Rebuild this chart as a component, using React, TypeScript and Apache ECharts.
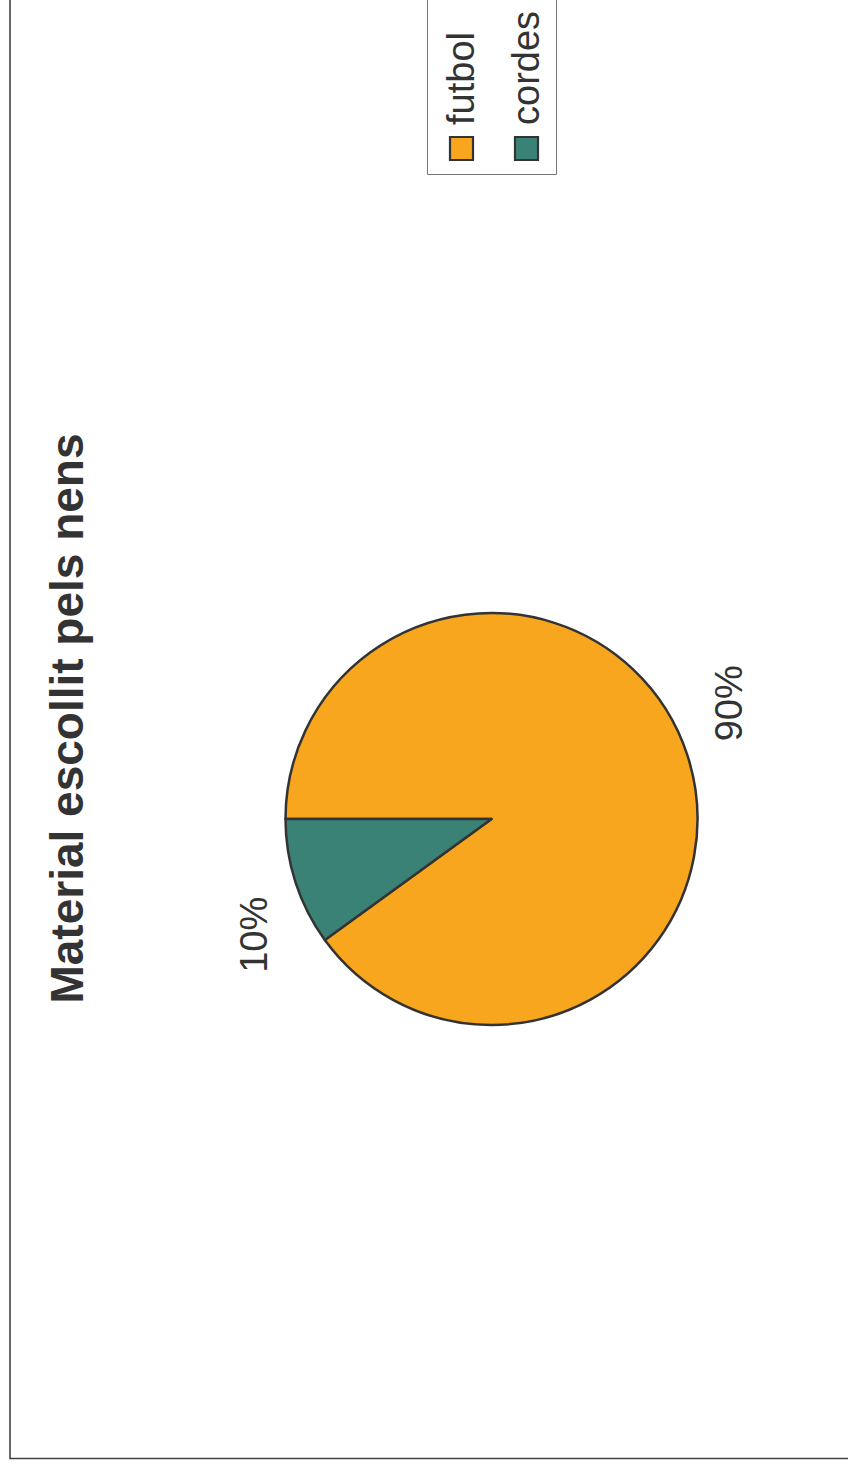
import React, { useEffect, useRef } from "react";
import * as echarts from "echarts";

const titleText = "Material escollit pels nens";
const categories = ["futbol", "cordes"];
const values = [90, 10];
const colors = ["#F8A61D", "#3B8276"];

const FONT = "'Liberation Sans', Arial, Helvetica, sans-serif";
const INK = "#333333";

export default function App() {
  const ref = useRef<HTMLDivElement>(null);

  useEffect(() => {
    if (!ref.current) return;
    const chart = echarts.init(ref.current, undefined, { renderer: "svg" });
    const pieData = categories.map((name, i) => ({
      name,
      value: values[i],
      itemStyle: { color: colors[i] },
    }));

    const legendItems: any[] = [];
    const legendX = [461.5, 526.5];
    categories.forEach((name, i) => {
      legendItems.push({
        type: "rect",
        shape: { x: legendX[i] - 11.5, y: 137, width: 23, height: 23 },
        style: { fill: colors[i], stroke: INK, lineWidth: 2.2 },
      });
      legendItems.push({
        type: "text",
        x: legendX[i] - 1,
        y: 125,
        rotation: Math.PI / 2,
        style: {
          text: name,
          font: `38px ${FONT}`,
          fill: INK,
          align: "left",
          verticalAlign: "middle",
        },
      });
    });

    chart.setOption({
      animation: false,
      backgroundColor: "#ffffff",
      graphic: [
        {
          type: "polyline",
          shape: { points: [[10, -10], [10, 1458.5], [900, 1458.5]] },
          style: { stroke: "#444444", lineWidth: 1.6, fill: "none" },
          z: 0,
        },
        {
          type: "rect",
          shape: { x: 427.5, y: -10, width: 129, height: 184.5 },
          style: { fill: "#ffffff", stroke: "#777777", lineWidth: 1 },
          z: 1,
        },
        ...legendItems.map((e) => ({ ...e, z: 2 })),
        {
          type: "text",
          x: 67,
          y: 718.5,
          rotation: Math.PI / 2,
          style: {
            text: titleText,
            font: `bold 46px ${FONT}`,
            fill: INK,
            align: "center",
            verticalAlign: "middle",
          },
          z: 2,
        },
      ],
      series: [
        {
          type: "pie",
          center: [491.5, 819],
          radius: 206,
          startAngle: 180,
          clockwise: true,
          silent: true,
          label: { show: false },
          labelLine: { show: false },
          itemStyle: { borderColor: INK, borderWidth: 2.5 },
          data: pieData,
        },
        {
          type: "pie",
          center: [491.5, 819],
          radius: [250, 272],
          startAngle: 188,
          clockwise: true,
          silent: true,
          itemStyle: { color: "rgba(0,0,0,0)", borderWidth: 0 },
          label: {
            show: true,
            position: "inside",
            rotate: 90,
            formatter: "{c}%",
            color: INK,
            fontSize: 38,
            fontFamily: FONT,
          },
          labelLine: { show: false },
          data: categories.map((name, i) => ({ name, value: values[i] })),
        },
      ],
    });
    return () => chart.dispose();
  }, []);

  return (
    <div
      ref={ref}
      style={{ position: "absolute", left: 0, top: 0, width: 848, height: 1469 }}
    />
  );
}
